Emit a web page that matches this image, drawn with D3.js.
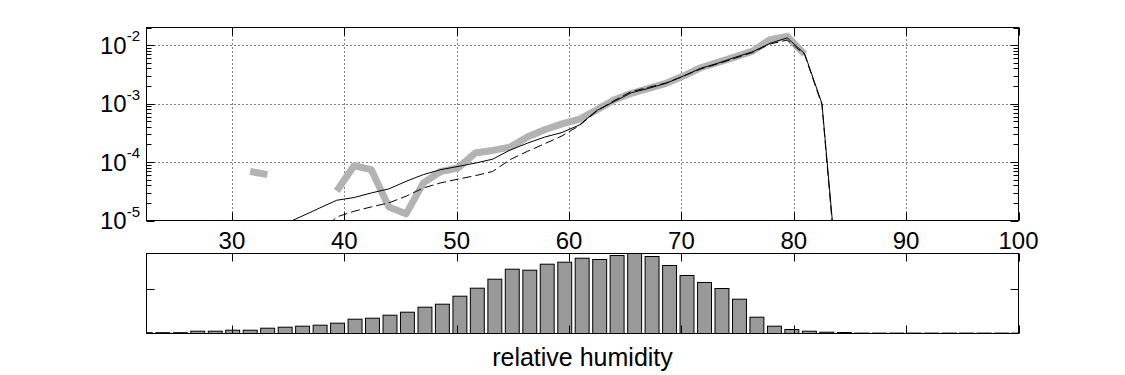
<!DOCTYPE html>
<html>
<head>
<meta charset="utf-8">
<script src="https://cdn.jsdelivr.net/npm/d3@7"></script>
<style>
  body { margin: 0; background: #fff; }
  text { font-family: "Liberation Sans", Arial, Helvetica, sans-serif; fill: #000; }
</style>
</head>
<body>
<svg id="canvas"></svg>
<script>
// Line data (pdf vs relative humidity), log scale
const rh = [31.62, 33.16, 34.70, 36.25, 37.79, 39.33, 40.87, 42.41, 43.96, 45.50,
            47.04, 48.58, 50.12, 51.67, 53.21, 54.75, 56.29, 57.83, 59.38, 60.92,
            62.46, 64.00, 65.54, 67.09, 68.63, 70.17, 71.71, 73.25, 74.80, 76.34,
            77.88, 79.42, 80.96, 82.51, 84.05];
const grayPdf = [6.9e-5, 6.1e-5, null, null, null, 3.2e-5, 8.65e-5, 7.4e-5, 1.71e-5, 1.3e-5,
                 4.4e-5, 6.9e-5, 7.9e-5, 1.43e-4, 1.58e-4, 1.8e-4, 2.67e-4, 3.56e-4, 4.5e-4, 5.4e-4,
                 7.8e-4, 1.15e-3, 1.5e-3, 1.82e-3, 2.22e-3, 2.95e-3, 4.1e-3, 5.07e-3, 6.3e-3, 7.9e-3,
                 1.24e-2, 1.41e-2, 7.0e-3, null, null];
const solidPdf = [null, null, 8.7e-6, 1.19e-5, 1.63e-5, 2.22e-5, 2.47e-5, 2.96e-5, 3.47e-5, 4.67e-5,
                  6.1e-5, 7.4e-5, 8.4e-5, 9.6e-5, 1.12e-4, 1.6e-4, 2.1e-4, 2.67e-4, 3.2e-4, 4.3e-4,
                  7.6e-4, 1.08e-3, 1.53e-3, 1.82e-3, 2.22e-3, 2.95e-3, 4.0e-3, 4.9e-3, 6.2e-3, 7.7e-3,
                  1.07e-2, 1.33e-2, 7.2e-3, 1.0e-3, 4.6e-7];
const dashedPdf = [null, null, null, null, 6.0e-6, 1.15e-5, 1.44e-5, 1.71e-5, 2.0e-5, 2.6e-5,
                   3.6e-5, 4.4e-5, 5.1e-5, 5.85e-5, 6.9e-5, 1.1e-4, 1.52e-4, 2.05e-4, 2.8e-4, 4.2e-4,
                   7.4e-4, 1.12e-3, 1.6e-3, 1.9e-3, 2.25e-3, 2.95e-3, 3.9e-3, 4.8e-3, 6.0e-3, 7.5e-3,
                   1.04e-2, 1.22e-2, 6.9e-3, 9.5e-4, 3.5e-7];

// Histogram of relative humidity
const binCenters = [22.30, 23.85, 25.41, 26.96, 28.52, 30.07, 31.63, 33.18, 34.74, 36.29,
                    37.85, 39.40, 40.96, 42.51, 44.07, 45.62, 47.18, 48.73, 50.29, 51.84,
                    53.40, 54.95, 56.51, 58.06, 59.62, 61.17, 62.73, 64.28, 65.84, 67.39,
                    68.95, 70.50, 72.06, 73.61, 75.17, 76.72, 78.28, 79.83, 81.39, 82.94,
                    84.50, 86.05, 87.61, 89.16, 90.72, 92.27, 93.83, 95.38, 96.94, 98.49, 100.05];
const binCounts = [0.08, 0.08, 0.08, 0.23, 0.23, 0.33, 0.33, 0.53, 0.63, 0.73,
                   0.83, 1.03, 1.43, 1.53, 1.83, 2.13, 2.63, 2.93, 3.73, 4.53,
                   5.43, 6.43, 6.33, 6.93, 7.13, 7.53, 7.4, 7.8, 8.0, 7.7,
                   6.8, 5.8, 5.1, 4.5, 3.43, 1.63, 0.73, 0.4, 0.23, 0.13,
                   0.1, 0.04, 0.04, 0.04, 0.04, 0.04, 0.04, 0.04, 0.04, 0.04, 0.04];

const xTicks = [30, 40, 50, 60, 70, 80, 90, 100];
const yDecades = [1e-5, 1e-4, 1e-3, 1e-2];
const yDecadeExp = ["-5", "-4", "-3", "-2"];
const histTicks = [4.5];

const width = 1125;
const height = 375;

const svg = d3.select("#canvas")
    .attr("width", width)
    .attr("height", height);

const x = d3.scaleLinear().domain([22.4, 100]).range([146.5, 1018.5]);
const y = d3.scaleLog().domain([1e-5, 2e-2]).range([220.5, 27.5]);
const yh = d3.scaleLinear().domain([0, 8]).range([333.5, 253.5]);

const tickLen = 8;
const minorLen = 5;

// clip paths
const defs = svg.append("defs");
defs.append("clipPath").attr("id", "clipTop").append("rect")
    .attr("x", x.range()[0]).attr("y", y.range()[1])
    .attr("width", x.range()[1] - x.range()[0])
    .attr("height", y.range()[0] - y.range()[1]);
defs.append("clipPath").attr("id", "clipBot").append("rect")
    .attr("x", x.range()[0]).attr("y", yh.range()[1])
    .attr("width", x.range()[1] - x.range()[0])
    .attr("height", yh.range()[0] - yh.range()[1]);

// ---- top panel ----
const topPanel = svg.append("g");

// dotted grid
topPanel.selectAll(".gx")
    .data(xTicks.filter(t => t < 100))
    .enter().append("line")
    .attr("x1", d => Math.round(x(d)) + 0.5).attr("x2", d => Math.round(x(d)) + 0.5)
    .attr("y1", y.range()[1]).attr("y2", y.range()[0])
    .attr("stroke", "#000").attr("stroke-width", 1).attr("stroke-dasharray", "1,3");
topPanel.selectAll(".gy")
    .data(yDecades.filter(t => t > 1e-5))
    .enter().append("line")
    .attr("x1", x.range()[0]).attr("x2", x.range()[1])
    .attr("y1", d => Math.round(y(d)) + 0.5).attr("y2", d => Math.round(y(d)) + 0.5)
    .attr("stroke", "#000").attr("stroke-width", 1).attr("stroke-dasharray", "1,3");

const lineGen = d3.line()
    .defined(d => d[1] != null)
    .x(d => x(d[0]))
    .y(d => y(d[1]));

const plot = topPanel.append("g").attr("clip-path", "url(#clipTop)");

plot.append("path")
    .attr("d", lineGen(rh.map((r, i) => [r, grayPdf[i]])))
    .attr("fill", "none").attr("stroke", "#b3b3b3")
    .attr("stroke-width", 7).attr("stroke-linejoin", "round");

plot.append("path")
    .attr("d", lineGen(rh.map((r, i) => [r, solidPdf[i]])))
    .attr("fill", "none").attr("stroke", "#000").attr("stroke-width", 1);

plot.append("path")
    .attr("d", lineGen(rh.map((r, i) => [r, dashedPdf[i]])))
    .attr("fill", "none").attr("stroke", "#000").attr("stroke-width", 1)
    .attr("stroke-dasharray", "9,4");

// box
topPanel.append("rect")
    .attr("x", x.range()[0]).attr("y", y.range()[1])
    .attr("width", x.range()[1] - x.range()[0])
    .attr("height", y.range()[0] - y.range()[1])
    .attr("fill", "none").attr("stroke", "#000").attr("stroke-width", 1);

// x ticks (top and bottom)
xTicks.forEach(t => {
    const px = Math.round(x(t)) + 0.5;
    topPanel.append("line").attr("x1", px).attr("x2", px)
        .attr("y1", y.range()[0]).attr("y2", y.range()[0] - tickLen).attr("stroke", "#000");
    topPanel.append("line").attr("x1", px).attr("x2", px)
        .attr("y1", y.range()[1]).attr("y2", y.range()[1] + tickLen).attr("stroke", "#000");
});

// y ticks: minor and major, left and right
y.ticks().forEach(v => {
    const isMajor = yDecades.some(d => Math.abs(d - v) / d < 1e-6);
    const len = isMajor ? tickLen : minorLen;
    const py = Math.round(y(v)) + 0.5;
    topPanel.append("line").attr("x1", x.range()[0]).attr("x2", x.range()[0] + len)
        .attr("y1", py).attr("y2", py).attr("stroke", "#000");
    topPanel.append("line").attr("x1", x.range()[1]).attr("x2", x.range()[1] - len)
        .attr("y1", py).attr("y2", py).attr("stroke", "#000");
});

// x tick labels
topPanel.selectAll(".xl")
    .data(xTicks)
    .enter().append("text")
    .attr("x", d => x(d))
    .attr("y", 249)
    .attr("text-anchor", "middle")
    .attr("font-size", 24)
    .text(d => d);

// y tick labels 10^n
yDecades.forEach((d, i) => {
    const t = topPanel.append("text")
        .attr("x", 140)
        .attr("y", y(d) + 8.5)
        .attr("text-anchor", "end")
        .attr("font-size", 24);
    t.append("tspan").text("10");
    t.append("tspan").attr("font-size", 15).attr("dy", -12.5).text(yDecadeExp[i]);
});

// ---- bottom panel (histogram) ----
const botPanel = svg.append("g");
const binW = (binCenters[1] - binCenters[0]) * 0.8;

botPanel.append("g").attr("clip-path", "url(#clipBot)")
    .selectAll("rect")
    .data(binCenters.map((c, i) => ({ c: c, v: binCounts[i] })))
    .enter().append("rect")
    .attr("x", d => x(d.c - binW / 2))
    .attr("width", d => x(d.c + binW / 2) - x(d.c - binW / 2))
    .attr("y", d => yh(d.v))
    .attr("height", d => yh(0) - yh(d.v))
    .attr("fill", "#999999")
    .attr("stroke", "#000")
    .attr("stroke-width", 1);

botPanel.append("rect")
    .attr("x", x.range()[0]).attr("y", yh.range()[1])
    .attr("width", x.range()[1] - x.range()[0])
    .attr("height", yh.range()[0] - yh.range()[1])
    .attr("fill", "none").attr("stroke", "#000").attr("stroke-width", 1);

xTicks.forEach(t => {
    const px = Math.round(x(t)) + 0.5;
    botPanel.append("line").attr("x1", px).attr("x2", px)
        .attr("y1", yh.range()[0]).attr("y2", yh.range()[0] - tickLen).attr("stroke", "#000");
    botPanel.append("line").attr("x1", px).attr("x2", px)
        .attr("y1", yh.range()[1]).attr("y2", yh.range()[1] + tickLen).attr("stroke", "#000");
});

histTicks.forEach(v => {
    const py = Math.round(yh(v)) + 0.5;
    botPanel.append("line").attr("x1", x.range()[0]).attr("x2", x.range()[0] + tickLen)
        .attr("y1", py).attr("y2", py).attr("stroke", "#000");
    botPanel.append("line").attr("x1", x.range()[1]).attr("x2", x.range()[1] - tickLen)
        .attr("y1", py).attr("y2", py).attr("stroke", "#000");
});

botPanel.append("text")
    .attr("x", (x.range()[0] + x.range()[1]) / 2)
    .attr("y", 366)
    .attr("text-anchor", "middle")
    .attr("font-size", 25)
    .text("relative humidity");
</script>
</body>
</html>
